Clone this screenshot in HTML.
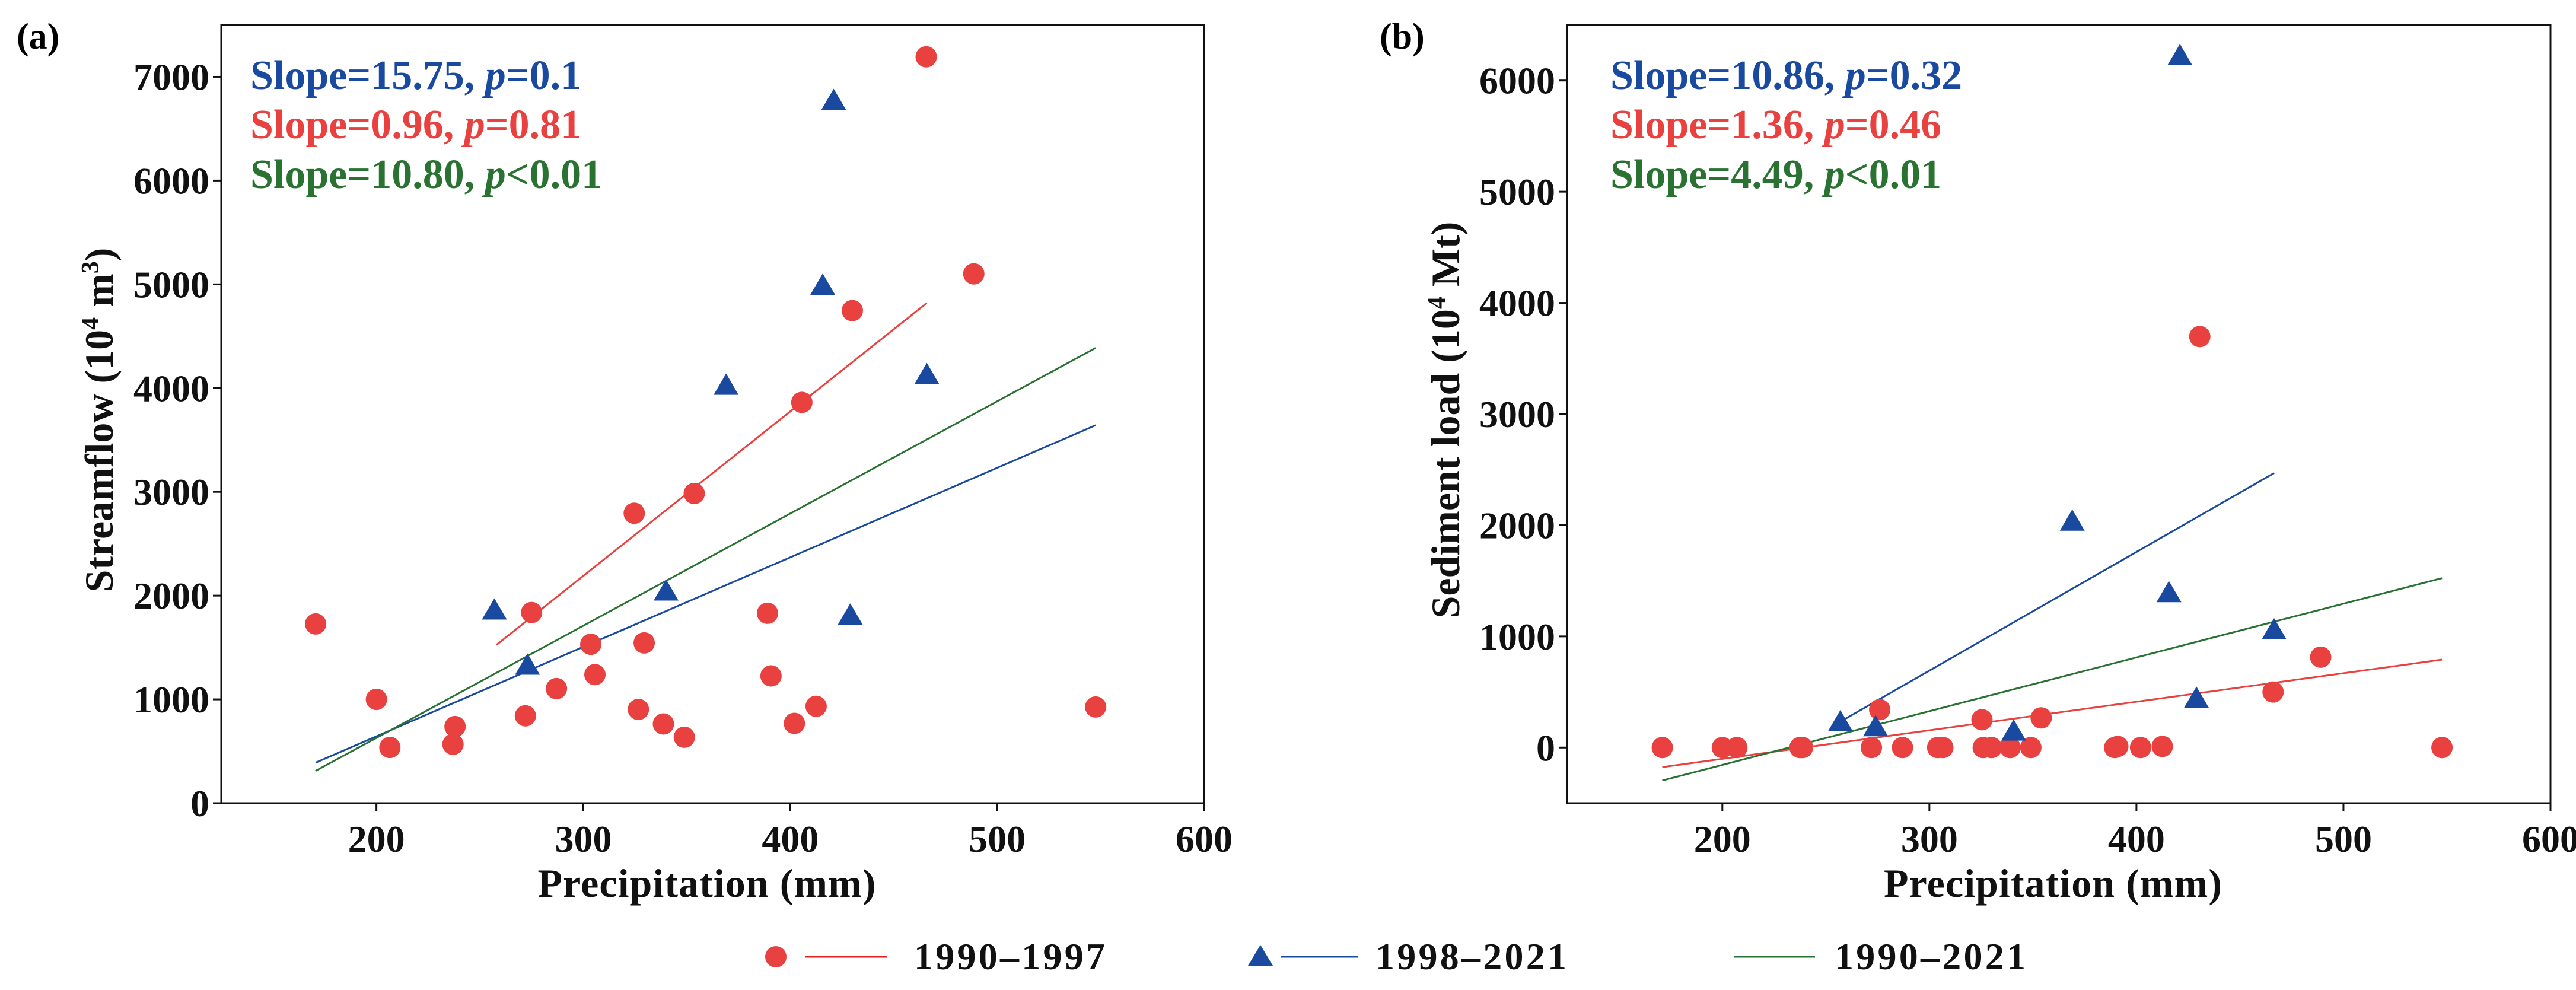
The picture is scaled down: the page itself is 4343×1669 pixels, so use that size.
<!DOCTYPE html>
<html><head><meta charset="utf-8"><style>
html,body{margin:0;padding:0;background:#fff;}
svg{display:block;font-family:"Liberation Serif",serif;font-weight:bold;}
</style></head><body>
<svg id="chart" width="4343" height="1669" viewBox="0 0 4343 1669" xmlns="http://www.w3.org/2000/svg">
<text x="28" y="82" font-size="62">(a)</text>
<text x="2326" y="82" font-size="62">(b)</text>
<g id="pa"></g>
<g id="pb"></g>
<g>
 <g>
  <circle cx="1308" cy="1613" r="18" fill="#e8413f"/>
  <line x1="1358" y1="1613" x2="1496" y2="1613" stroke="#e8211f" stroke-width="3"/>
  <text x="1541" y="1634" font-size="64" textLength="322" fill="#111">1990–1997</text>
 </g>
 <g>
  <polygon points="2125,1593 2146,1628 2104,1628" fill="#1a4aa0"/>
  <line x1="2160" y1="1613" x2="2290" y2="1613" stroke="#1a4aa0" stroke-width="3"/>
  <text x="2319" y="1634" font-size="64" textLength="322" fill="#111">1998–2021</text>
 </g>
 <g>
  <line x1="2924" y1="1613" x2="3060" y2="1613" stroke="#2a7232" stroke-width="3"/>
  <text x="3093" y="1634" font-size="64" textLength="322" fill="#111">1990–2021</text>
 </g>
</g>
</svg>
<script>
// Panel (a) data
const aRedX = [170.6,200,206.5,238,237,272,275,287,303.6,305.6,324.6,326.6,329.4,338.7,348.8,353.6,389,390.7,402,405.6,412.5,430,465.7,488.7,547.6];
const aRedY = [1727,1000,537,738,567,842,1837,1104,1531,1239,2794,903,1544,763,635,2984,1830,1226,769,3862,933,4747,7193,5101,927];
const aBlueX = [257,273,340,369,415.7,421,429,466];
const aBlueY = [1849,1318,2032,4015,4979,6760,1800,4118];
const aRedLine = [[258,1525],[466,4820]];
const aBlueLine = [[170.6,390],[547.6,3642]];
const aGreenLine = [[170.6,311],[547.6,4387]];
const aYTicks = [0,1000,2000,3000,4000,5000,6000,7000];
const aSlopes = ["Slope=15.75, ","Slope=0.96, ","Slope=10.80, "];
const aPs = ["=0.1","=0.81","<0.01"];
// Panel (b) data
const bRedX = [171,200,207,237.5,238.7,272,276,287,304,306.5,325.4,326,330,339,349,354,389.5,391,402,412.5,430.6,466,489,547.6];
const bRedY = [0,0,0,0,0,0,341,0,0,0,250,0,0,0,0,267,0,10,0,10,3697,500,813,0];
const bBlueX = [257,274,340.7,369,415.7,421,429,466.5];
const bBlueY = [220,176,137,2025,1382,6212,432,1047];
const bRedLine = [[171,-176],[547.6,791]];
const bBlueLine = [[257,233],[466.5,2469]];
const bGreenLine = [[171,-296],[547.6,1524]];
const bYTicks = [0,1000,2000,3000,4000,5000,6000];
const bSlopes = ["Slope=10.86, ","Slope=1.36, ","Slope=4.49, "];
const bPs = ["=0.32","=0.46","<0.01"];
const xTicks = [200,300,400,500,600];

const NS="http://www.w3.org/2000/svg";
const RED="#e8413f", BLUE="#1a4aa0", GREEN="#2a7232";
function mk(tag, attrs, parent){const e=document.createElementNS(NS,tag);for(const k in attrs)e.setAttribute(k,attrs[k]);parent.appendChild(e);return e;}

function panel(g, L, R, ymin, ymax, yTicks, ytitle, ytitleX, rx, ry, bx, by, rl, bl, gl, slopes, ps, textX){
  const T=42, B=1354;
  const sx=v=>L+(v-125)/(600-125)*(R-L);
  const sy=v=>B-(v-ymin)/(ymax-ymin)*(B-T);
  const frame=mk('rect',{x:L,y:T,width:R-L,height:B-T,fill:'none',stroke:'#111','stroke-width':3},g);
  
  
  xTicks.forEach(v=>{
    const t=mk('line',{x1:sx(v),y1:B,x2:sx(v),y2:B+14,stroke:'#111','stroke-width':3},g);
    
    
    const l=mk('text',{x:sx(v),y:B+82,'font-size':64,'text-anchor':'middle',fill:'#111'},g);
    l.textContent=v;
    
    
  });
  yTicks.forEach(v=>{
    const t=mk('line',{x1:L-14,y1:sy(v),x2:L,y2:sy(v),stroke:'#111','stroke-width':3},g);
    
    
    const l=mk('text',{x:L-20,y:sy(v)+22,'font-size':64,'text-anchor':'end',fill:'#111'},g);
    l.textContent=v;
    
    
  });
  const xt=mk('text',{x:(sx(200)+sx(600))/2-20+ (L>1000?0:0),y:1512,'font-size':68,'text-anchor':'middle',fill:'#111',textLength:570},g);
  xt.setAttribute('x', L + (R-L)*0.5 - 10);
  xt.textContent='Precipitation (mm)';
  
  
  const yt=mk('text',{x:0,y:0,'font-size':68,'text-anchor':'middle',fill:'#111',transform:`translate(${ytitleX},${(T+B)/2+10}) rotate(-90)`},g);
  yt.innerHTML=ytitle;
  
  
  [[rl,RED,'fit-line-1990-1997'],[bl,BLUE,'fit-line-1998-2021'],[gl,GREEN,'fit-line-1990-2021']].forEach(([ln,c,n])=>{
    const e=mk('line',{x1:sx(ln[0][0]),y1:sy(ln[0][1]),x2:sx(ln[1][0]),y2:sy(ln[1][1]),stroke:c,'stroke-width':3},g);
    
    
  });
  rx.forEach((v,i)=>{
    const c=mk('circle',{cx:sx(v),cy:sy(ry[i]),r:18,fill:RED},g);
    
    
  });
  bx.forEach((v,i)=>{
    const x=sx(v),y=sy(by[i]);
    const p=mk('polygon',{points:`${x},${y-22} ${x+21},${y+14} ${x-21},${y+14}`,fill:BLUE},g);
    
    
  });
  const cols=[BLUE,RED,GREEN], bases=[150,233,317];
  slopes.forEach((s,i)=>{
    const t=mk('text',{x:textX,y:bases[i],'font-size':70,fill:cols[i]},g);
    t.innerHTML=`${s}<tspan font-style="italic">p</tspan>${ps[i]}`;
    
    
  });
}
panel(document.getElementById('pa'),373,2030,0,7500,aYTicks,'Streamflow (10<tspan font-size="42" dy="-24">4</tspan><tspan dy="24"> m</tspan><tspan font-size="42" dy="-24">3</tspan><tspan dy="24">)</tspan>',190,aRedX,aRedY,aBlueX,aBlueY,aRedLine,aBlueLine,aGreenLine,aSlopes,aPs,422);
panel(document.getElementById('pb'),2642,4300,-500,6500,bYTicks,'Sediment load (10<tspan font-size="42" dy="-24">4</tspan><tspan dy="24"> Mt)</tspan>',2460,bRedX,bRedY,bBlueX,bBlueY,bRedLine,bBlueLine,bGreenLine,bSlopes,bPs,2715);
</script>
</body></html>
